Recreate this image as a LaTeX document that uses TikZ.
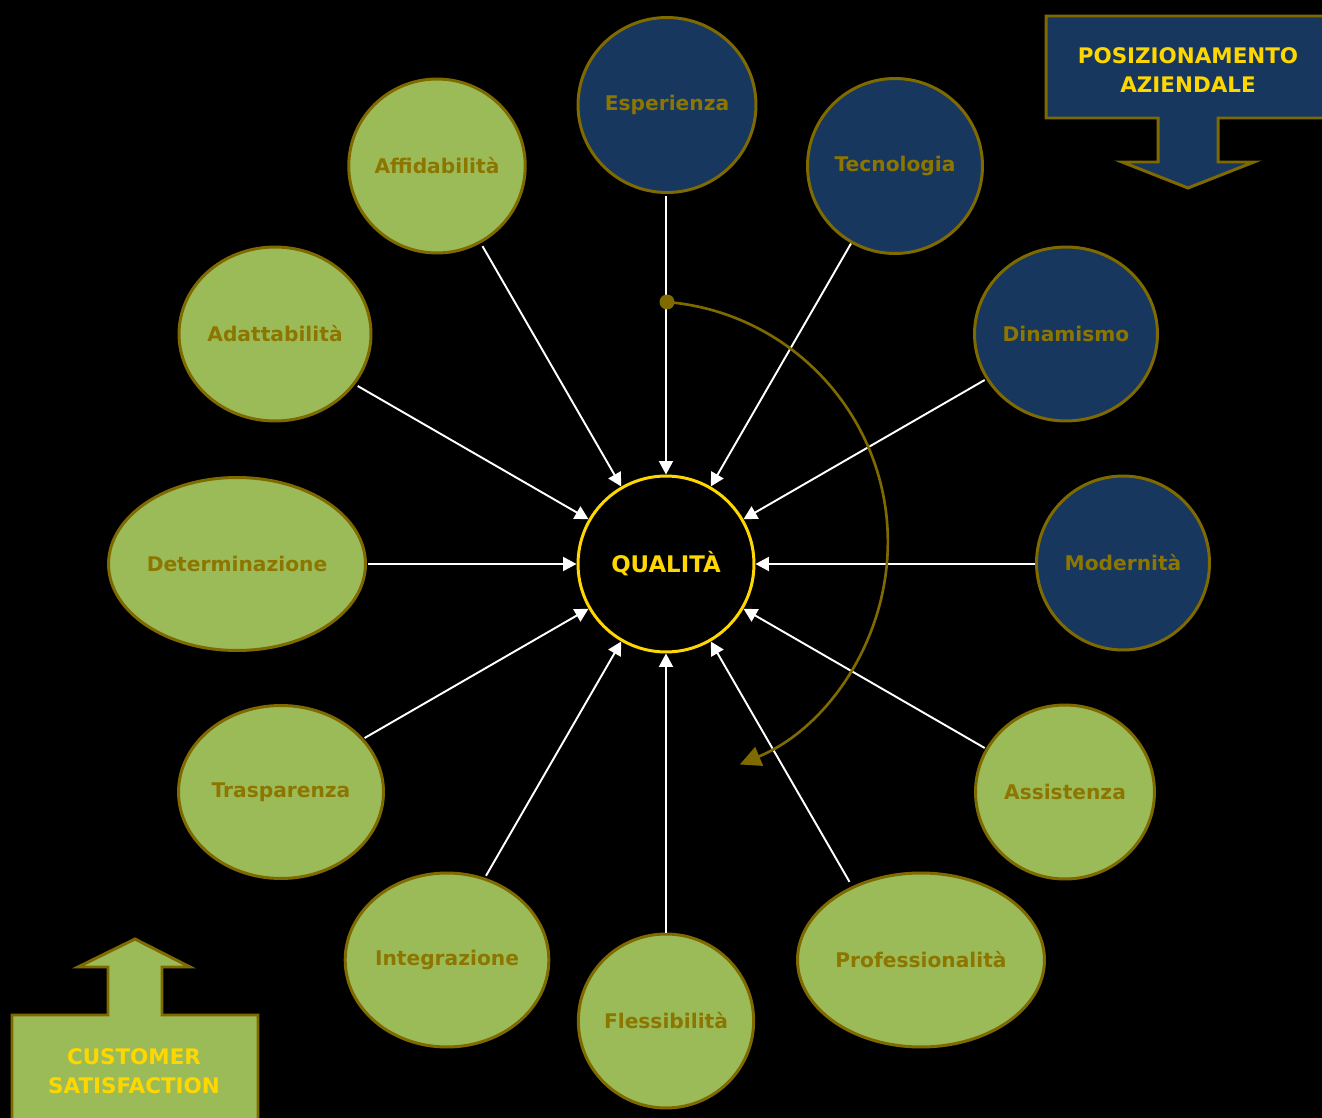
\documentclass[tikz,border=0pt]{standalone}
\usepackage{fontspec}
\setmainfont{DejaVu Sans}
\usetikzlibrary{shapes,shapes.geometric,arrows.meta}
\definecolor{verde}{HTML}{9BBB59}
\definecolor{blu}{HTML}{17375E}
\definecolor{oliva}{HTML}{7F6A00}
\definecolor{testo}{HTML}{8C7600}
\definecolor{giallo}{HTML}{FFD700}
\tikzset{
  nodo/.style = {ellipse, align=center, inner sep=0pt, line width=1.7pt, draw=oliva, text=testo, font=\bfseries\fontsize{11.5}{13}\selectfont},
  nodo_v/.style = {nodo, fill=verde},
  nodo_b/.style = {nodo, fill=blu},
  nodo_q/.style = {circle, inner sep=0pt, minimum size=3.52cm, line width=1.7pt, draw=giallo, fill=black, text=giallo, font=\bfseries\fontsize{13}{15}\selectfont},
  freccia/.style = {draw=white, line width=1.1pt, -{Triangle[length=0.27cm,width=0.28cm]}},
  box/.style = {line width=1.7pt, draw=oliva},
  box_t/.style = {align=center, text=giallo, font=\bfseries\fontsize{12.2}{16.5}\selectfont}
}
\begin{document}
\begin{tikzpicture}[x=0.02cm, y=0.02cm]
	\fill[black] (0,0) rectangle (1322,-1118);
	\clip (0,0) rectangle (1322,-1118);
	\node [nodo_q] (q) at (666,-564) {QUALITÀ};
	\node [nodo_b, minimum width=3.56cm, minimum height=3.5cm] (esp) at (667,-105) {Esperienza};
	\node [nodo_b, minimum width=3.5cm, minimum height=3.5cm] (tec) at (895,-166) {Tecnologia};
	\node [nodo_b, minimum width=3.66cm, minimum height=3.48cm] (din) at (1066,-334) {Dinamismo};
	\node [nodo_b, minimum width=3.46cm, minimum height=3.48cm] (mod) at (1123,-563) {Modernità};
	\node [nodo_v, minimum width=3.58cm, minimum height=3.48cm] (ass) at (1065,-792) {Assistenza};
	\node [nodo_v, minimum width=4.94cm, minimum height=3.48cm] (pro) at (921,-960) {Professionalità};
	\node [nodo_v, minimum width=3.46cm, minimum height=3.48cm] (fle) at (666,-1021) {Flessibilità};
	\node [nodo_v, minimum width=4.06cm, minimum height=3.48cm] (int) at (447,-960) {Integrazione};
	\node [nodo_v, minimum width=4.1cm, minimum height=3.46cm] (tra) at (281,-792) {Trasparenza};
	\node [nodo_v, minimum width=5.14cm, minimum height=3.46cm] (det) at (237,-564) {Determinazione};
	\node [nodo_v, minimum width=3.84cm, minimum height=3.48cm] (ada) at (275,-334) {Adattabilità};
	\node [nodo_v, minimum width=3.52cm, minimum height=3.48cm] (aff) at (437,-166) {Affidabilità};
	\foreach \a/\r in {90/368,60/370,30/368,0/369,-30/368,-60/367,-90/369,-120/360,-150/348,180/298,150/356,120/367}
		\draw [freccia] ([shift={(\a:\r)}]q.center) -- (q.\a);
	\coordinate (p) at (667,-302);
	\draw [oliva, line width=1.5pt, -{Triangle[length=0.42cm,width=0.4cm]}] (p) arc [start angle=85.2, end angle=-67.3, radius=241];
	\fill [oliva] (p) circle [radius=0.15cm];
	\draw [box, fill=blu] (1046,-16) -- (1340,-16) -- (1340,-118) -- (1218,-118) -- (1218,-162) -- (1254,-162) -- (1188,-188) -- (1122,-162) -- (1158,-162) -- (1158,-118) -- (1046,-118) -- cycle;
	\node [box_t] (pos) at (1188,-70) {POSIZIONAMENTO\\AZIENDALE};
	\draw [box, fill=verde] (12,-1140) -- (12,-1015) -- (108,-1015) -- (108,-967) -- (78,-967) -- (135,-939) -- (190,-967) -- (162,-967) -- (162,-1015) -- (258,-1015) -- (258,-1140) -- cycle;
	\node [box_t] (cus) at (134,-1071) {CUSTOMER\\SATISFACTION};
\end{tikzpicture}
\end{document}
